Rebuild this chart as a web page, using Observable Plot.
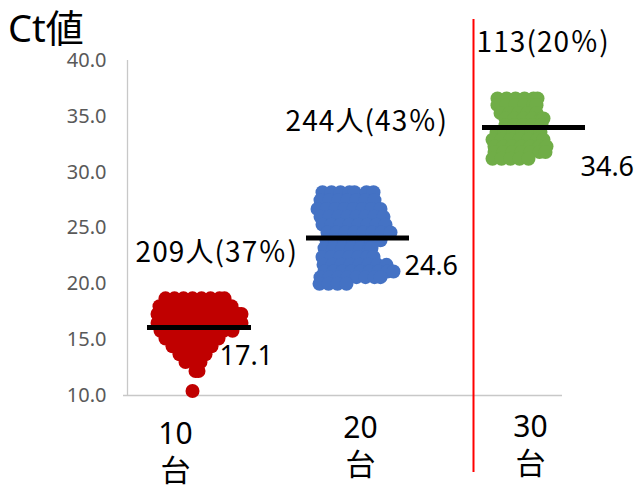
<!DOCTYPE html>
<html><head><meta charset="utf-8">
<script src="https://cdn.jsdelivr.net/npm/d3@7"></script>
<script src="https://cdn.jsdelivr.net/npm/@observablehq/plot@0.6"></script>
<style>
body{margin:0;background:#fff;}
#wrap{position:relative;width:639px;height:485px;overflow:hidden;}
#title{position:absolute;left:8px;top:10px;font-size:38px;line-height:0.9;font-family:"Noto Sans","Noto Sans CJK JP",sans-serif;color:#000;white-space:nowrap;}
</style></head><body>
<div id="wrap"><div id="title">Ct値</div></div>
<script>
// Ct values per age group, rows of [Ct, [x positions of dots in that row]] (jitter)
const teensRows = [
  [18.7, [3.8,4.7,5.6,6.5,7.4,8.3,9.2,9.7]],
  [18.0, [3.2,4.1,5.0,5.9,6.8,7.7,8.6,9.5,10.4]],
  [17.3, [3.0,3.9,4.8,5.7,6.6,7.5,8.4,9.3,10.2,11.1,11.4]],
  [16.5, [3.0,3.9,4.8,5.7,6.6,7.5,8.4,9.3,10.2,11.1,11.4]],
  [15.8, [3.3,4.2,5.1,6.0,6.9,7.8,8.7,9.6,10.5]],
  [15.1, [3.8,4.7,5.6,6.5,7.4,8.3,9.1]],
  [14.4, [4.5,5.4,6.3,7.2,8.1,8.4]],
  [13.7, [5.2,6.1,7.0,7.8]],
  [13.0, [5.8,6.6,7.3]],
  [12.2, [6.8,7.1]],
  [10.4, [6.5]]
];
const twentiesRows = [
  [28.2, [19.5,20.4,21.3,22.2,22.7,23.9,24.6]],
  [27.5, [19.3,20.2,21.1,22.0,22.9,23.8,24.7]],
  [26.7, [19.0,19.9,20.8,21.7,22.6,23.5,24.4,25.3]],
  [26.0, [19.3,20.2,21.1,22.0,22.9,23.8,24.7,25.6]],
  [25.3, [19.5,20.4,21.3,22.2,23.1,24.0,24.9,25.8]],
  [24.6, [20.0,20.9,21.8,22.7,23.6,24.5,25.4,26.3]],
  [23.9, [19.9,20.8,21.7,22.6,23.5,24.4,25.3]],
  [23.2, [19.7,20.6,21.5,22.4,23.3,24.2,24.4]],
  [22.4, [19.5,20.4,21.3,22.2,23.1,24.0,24.6]],
  [21.7, [19.6,20.5,21.4,22.3,23.2,24.1,25.0,25.9]],
  [21.1, [19.7,20.6,21.5,22.4,23.3,24.2,25.1,26.0,26.6]],
  [20.6, [19.3,20.2,21.1,22.0,22.9,23.8,24.7,25.3]],
  [20.0, [19.2,20.1,21.0,21.9]]
];
const thirtiesRows = [
  [36.6, [37.0,37.9,38.8,39.7,40.6,41.0]],
  [36.0, [37.0,37.9,38.8,39.7,40.6,40.9]],
  [35.3, [37.3,38.2,39.1,40.0,40.9]],
  [34.8, [37.8,38.7,39.6,40.5,41.4,41.6]],
  [34.2, [37.8,38.7,39.6,40.5,41.4]],
  [33.6, [36.9,37.7,38.6,39.5,40.4,41.3]],
  [32.9, [36.5,37.4,38.3,39.2,40.1,41.0,41.6]],
  [32.3, [36.7,37.6,38.5,39.4,40.3,41.2,41.9]],
  [31.8, [36.7,37.6,38.5,39.4,40.3,41.2,41.8]],
  [31.2, [36.5,37.4,38.3,39.2,40.1]]
];

const groupColors = ["#C00000", "#4472C4", "#70AD47"];

// mean bars as drawn, and their value labels
const meanLineCt = [16.1, 24.1, 34.0];
const meanLineX1 = [2.0, 17.9, 35.5];
const meanLineX2 = [12.4, 28.2, 45.8];
const meanLabels = ["17.1", "24.6", "34.6"];
const meanLabelX = [9.2, 27.7, 45.3];
const meanLabelCt = [13.5, 21.55, 30.4];

// group count labels
const countLabels = ["209人(37％)", "244人(43％)", "113(20％)"];
const countLabelX = [0.8, 15.8, 34.9];
const countLabelCt = [22.8, 34.5, 41.6];

// category labels (two lines: decade, then 台)
const categories = ["10", "20", "30"];
const categorySuffix = "台";
const categoryX = [4.8, 23.3, 40.3];
const categoryCt = [5.03, 5.57, 5.66];

const yTicks = [10, 15, 20, 25, 30, 35, 40];
const dividerX = [34.6];

const toPts = rows => rows.flatMap(([ct, xs]) => xs.map(x => ({x, ct})));
const groupsPts = [toPts(teensRows), toPts(twentiesRows), toPts(thirtiesRows)];

const means = meanLineCt.map((ct, i) => ({ct, x1: meanLineX1[i], x2: meanLineX2[i], label: meanLabels[i], lx: meanLabelX[i], ly: meanLabelCt[i]}));
const counts = countLabels.map((t, i) => ({t, x: countLabelX[i], y: countLabelCt[i]}));
const cats = categories.map((c, i) => ({t: c + "\n" + categorySuffix, x: categoryX[i], y: categoryCt[i]}));

const font = '"Noto Sans","Noto Sans CJK JP",sans-serif';
const cjkFont = '"Noto Sans CJK JP","Noto Sans",sans-serif';

const chart = Plot.plot({
  width: 639, height: 485,
  marginTop: 60, marginBottom: 90, marginLeft: 127, marginRight: 77,
  x: {domain: [0, 43.5], axis: null},
  y: {domain: [10, 40]},
  style: {fontFamily: font, background: "#fff", overflow: "visible"},
  marks: [
    Plot.ruleY([10], {x1: -0.4, x2: 43.5, stroke: "#c8c8c8", strokeWidth: 1.3}),
    Plot.ruleX([0], {y1: 10, y2: 40, stroke: "#c8c8c8", strokeWidth: 1.3}),
    Plot.axisY({ticks: yTicks, tickFormat: d => d.toFixed(1), tickSize: 0, tickPadding: 21, fontSize: 20, fill: "#595959", label: null}),
    ...groupsPts.map((pts, i) => Plot.dot(pts, {x: "x", y: "ct", r: 7, fill: groupColors[i], stroke: "none"})),
    Plot.ruleX(dividerX, {x: d => d, y1: 43.67, y2: 3.1, stroke: "#FF0000", strokeWidth: 2}),
    Plot.ruleY(means, {y: "ct", x1: "x1", x2: "x2", stroke: "#000", strokeWidth: 5}),
    Plot.text(means, {x: "lx", y: "ly", text: "label", textAnchor: "start", fontSize: 27, fill: "#000"}),
    Plot.text(counts, {x: "x", y: "y", text: "t", textAnchor: "start", fontSize: 28, fill: "#000", fontFamily: cjkFont}),
    Plot.text(cats, {x: "x", y: "y", text: "t", fontSize: 30, lineHeight: 1.23, fill: "#000"})
  ]
});
d3.select(chart).selectAll("text").filter(function() { return this.textContent.includes("％"); })
  .style("letter-spacing", "1.1px");
chart.style.position = "absolute";
chart.style.left = "0";
chart.style.top = "0";
const wrap = document.getElementById("wrap");
wrap.insertBefore(chart, wrap.firstChild);
</script>
</body></html>
